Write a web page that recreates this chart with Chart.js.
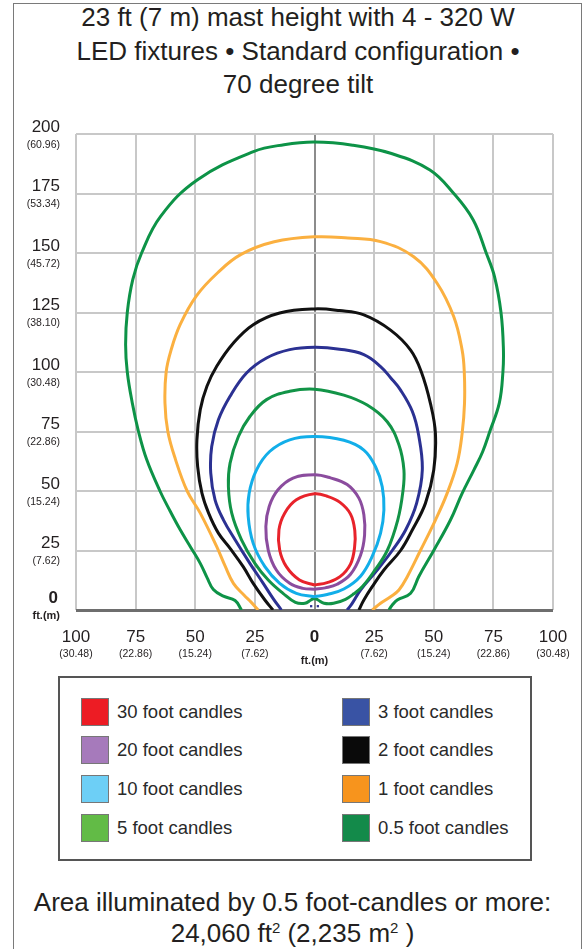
<!DOCTYPE html>
<html>
<head>
<meta charset="utf-8">
<script src="https://cdn.jsdelivr.net/npm/chart.js@4.4.1/dist/chart.umd.min.js"></script>
<style>
  html, body { margin: 0; padding: 0; background: #fff; }
  body { width: 585px; height: 949px; position: relative; overflow: hidden;
         font-family: "Liberation Sans", Arial, sans-serif; color: #231f20; }
  .frame { position: absolute; left: 13px; top: 3px; width: 569px; height: 980px;
           border: 1.5px solid #7a7a7a; border-bottom: none; box-sizing: border-box; }
  .title { position: absolute; left: 14px; width: 568px; top: 1px; text-align: center;
           font-size: 26px; line-height: 33.5px; }
  #plot { position: absolute; left: 14px; top: 110px; width: 570px; height: 560px; }
  .legend { position: absolute; left: 58px; top: 676px; width: 474px; height: 185px;
            border: 2px solid #555; box-sizing: border-box; }
  .item { position: absolute; font-size: 18.5px; line-height: 28px; white-space: nowrap; color: #2a2a2a; }
  .sw { display: inline-block; width: 26px; height: 26px; border: 1px solid #777;
        vertical-align: top; margin-right: 8px; }
  .note { position: absolute; left: 0; width: 585px; top: 887px; text-align: center;
          font-size: 26px; line-height: 31px; }
  .note sup { font-size: 15px; line-height: 0; vertical-align: 9px; }
</style>
</head>
<body>
<div class="frame"></div>
<div class="title">23 ft (7 m) mast height with 4 - 320 W<br>LED fixtures &bull; Standard configuration &bull;<br>70 degree tilt</div>
<div id="plot"><canvas id="chart"></canvas></div>
<div class="legend" id="legend"></div>
<div class="note">Area illuminated by 0.5 foot-candles or more:<br>24,060 ft<sup>2</sup> (2,235 m<sup>2</sup> )</div>

<script>
// axis ticks (feet) and their metre equivalents
const yTicks = [0, 25, 50, 75, 100, 125, 150, 175, 200];
const yMetric = ['', '(7.62)', '(15.24)', '(22.86)', '(30.48)', '(38.10)', '(45.72)', '(53.34)', '(60.96)'];
const xTicks = [-100, -75, -50, -25, 0, 25, 50, 75, 100];
const xTickLabels = ['100', '75', '50', '25', '0', '25', '50', '75', '100'];
const xMetric = ['(30.48)', '(22.86)', '(15.24)', '(7.62)', '', '(7.62)', '(15.24)', '(22.86)', '(30.48)'];

const levelNames = ['30 foot candles', '20 foot candles', '10 foot candles', '5 foot candles',
                    '3 foot candles', '2 foot candles', '1 foot candles', '0.5 foot candles'];

// isolux contours, [x ft, y ft]
const fc30 = [[0,10.5],[5.3,11.5],[10.7,14],[15.1,19.3],[16.8,26.3],[16.9,33.3],[15.1,40.3],[10.7,45.2],
  [5.3,47.8],[0,48.8],[-7.6,46.3],[-12.5,40.7],[-14.9,33.7],[-14.6,25.2],[-11.8,18.2],[-6.3,12.6],[0,10.5]];
const fc20 = [[0,8.7],[4.5,9.3],[9.5,10.8],[15.1,15],[19.3,23],[21,31.5],[20.7,40],[18.6,47],[13.7,52.7],
  [6.7,55.5],[0,56.8],[-9,55.4],[-15.3,50.5],[-19,43.5],[-20.4,35.1],[-19.4,25.2],[-16,16.8],[-10.4,11.2],
  [-4.9,9.1],[0,8.7]];
const fc10 = [[0,5.6],[5.3,6.5],[12.3,8.8],[19.3,14.2],[24.2,22.5],[27.7,32.3],[29.1,42],[28.4,51.8],[25.6,60.2],
  [20.7,67.2],[12.3,71.3],[0,72.9],[-10.4,71.5],[-18.8,66.6],[-24.3,58.9],[-27.4,49.1],[-27.8,39.3],[-25.7,28],
  [-20.8,18.2],[-14.6,11.2],[-7.6,7],[0,5.6]];
const fc5 = [[0,4.9],[1.5,4.2],[4,2.8],[8,2.8],[13,4.5],[16.5,6.8],[20.2,10],[25,16.3],[30.5,25],[34.9,37.8],
  [37,49.3],[37.5,58.8],[35.4,69.4],[30.5,79.1],[22.1,86.1],[12.3,90.3],[0,92.8],[-10.4,91.9],[-20.1,88.4],
  [-27.1,81.3],[-31.9,72.9],[-35.4,61.7],[-36.1,51.9],[-34.7,40.7],[-30.6,29.5],[-25,19.6],[-19.4,12.6],
  [-13.2,7],[-8,3.2],[-4,2.8],[-1.5,4.2],[0,4.9]];
const fc3 = [[-13.9,0],[-17.4,4.9],[-21.5,11.2],[-27.1,19.6],[-33.3,29.5],[-38.2,37.9],[-41.7,46.3],[-43.5,57.5],
  [-43.1,68.7],[-40.3,79.9],[-35.4,89.8],[-28.5,99.6],[-20.1,105.9],[-10.4,109.4],[0,110.4],[10.5,109.6],
  [20.7,107.3],[27.7,102.3],[32,97.5],[36.1,92.4],[41,83.5],[43.7,73.3],[45.2,58.8],[42.8,44.8],[38.2,33.6],
  [32.6,25],[26.3,16.8],[19.3,8.4],[15.8,2.8],[13.7,0]];
const fc2 = [[-17.4,0],[-20.8,4.2],[-25.7,11.2],[-29.9,18.2],[-35.4,25.9],[-40.3,32.3],[-44.4,40.7],[-47.2,49.1],
  [-49,60.3],[-49.3,71.5],[-47.9,84.2],[-45.1,94],[-41,102.4],[-34,112.2],[-25.7,119.9],[-14.6,124.8],[0,126.5],
  [10.5,125.8],[20.7,124],[31.9,117.6],[40.3,109.2],[44.8,100],[48.6,86.8],[50.7,74.2],[50,58.8],[46.5,44.8],
  [41,33.6],[36.1,25],[29.1,16.8],[24.2,9.8],[20.7,4.2],[18.6,0]];
const fc1 = [[-23.6,0],[-26.5,3.2],[-29.5,6.2],[-34,11.2],[-37.5,18.5],[-41,26.6],[-47.9,40.7],[-53.4,50],
  [-58.3,63.3],[-61.5,75],[-62.7,87],[-62.2,100],[-60.2,109],[-56.3,120],[-49.5,132],[-40.6,141.7],[-30.8,149.4],
  [-16.9,154.7],[0,156.8],[14,156.3],[27.7,154.8],[41.6,148.4],[51.4,137.3],[58.4,123.2],[61.9,109.2],[62.8,100],
  [62.9,86.8],[61.9,74.2],[59.8,61.6],[55.6,49],[50.7,37.8],[44.4,25],[38.9,14],[35.4,8.4],[31.9,5.6],
  [27.7,2.8],[24.2,0]];
const fc05 = [[-30.6,0],[-33.3,4],[-38.2,5.8],[-42.4,8.6],[-45,13.5],[-47.9,19.6],[-52,26.5],[-56.3,33.7],
  [-60.5,41.5],[-64.8,50],[-70.4,63.3],[-73.8,75],[-76.4,87],[-78.5,100],[-79.2,111.6],[-78.5,125],[-76.2,138.8],
  [-72.5,150],[-64.6,165.3],[-49.2,180.7],[-25.6,192.6],[-12.8,195.5],[0,196.6],[16,195.3],[31.9,191.9],
  [48.4,184.9],[58.4,175],[66.5,164],[72,150],[75.5,140],[78.2,125],[79.2,110],[79,100],[77.5,87],[73.5,75],
  [70.5,66.5],[66.8,58.8],[61.9,49],[57,37.8],[50,25],[43.7,14],[40.3,7],[34.7,4.2],[32.6,2.1],[31.2,0]];
// two little marks under the mast
const mastMarks = [[-1.4,1.6],[1.4,1.6]];

const contours = [fc30, fc20, fc10, fc5, fc3, fc2, fc1, fc05];
const lineColors = ['#e8232b', '#8b4c9e', '#12aee9', '#129447', '#2b3192', '#111111', '#fbb040', '#0d9347'];
const swatchColors = ['#ed1c24', '#a67abb', '#6dcff6', '#62bb46', '#3953a4', '#0a0a0a', '#f7941d', '#138a4a'];

const FONT = '"Liberation Sans", Arial, sans-serif';

const datasets = contours.map((pts, i) => ({
    label: levelNames[i],
    data: pts.map(p => ({ x: p[0], y: p[1] })),
    showLine: true,
    borderColor: lineColors[i],
    borderWidth: 3,
    pointRadius: 0,
    tension: 0.4,
    fill: false,
}));
datasets.push({
    label: 'mast',
    data: mastMarks.map(p => ({ x: p[0], y: p[1] })),
    pointStyle: 'rect',
    pointRadius: 1.6,
    backgroundColor: '#2b3192',
    borderWidth: 0,
});

// draws the two-line (ft / m) tick labels
const axisText = {
    id: 'axisText',
    afterDraw(chart) {
        const { ctx, chartArea, scales: { x, y } } = chart;
        ctx.save();
        ctx.fillStyle = '#231f20';
        ctx.textBaseline = 'middle';
        ctx.textAlign = 'right';
        const lx = chartArea.left - 16;
        yTicks.forEach((v, i) => {
            const py = y.getPixelForValue(v);
            if (v === 0) {
                ctx.font = 'bold 17px ' + FONT;
                ctx.fillText('0', lx - 2, py - 12);
                ctx.font = 'bold 11px ' + FONT;
                ctx.fillText('ft.(m)', lx, py + 6);
            } else {
                ctx.font = '17px ' + FONT;
                ctx.fillText(String(v), lx, py - 7);
                ctx.font = '10.5px ' + FONT;
                ctx.fillText(yMetric[i], lx, py + 11);
            }
        });
        ctx.textAlign = 'center';
        const by = chartArea.bottom;
        xTicks.forEach((v, i) => {
            const px = x.getPixelForValue(v);
            if (v === 0) {
                ctx.font = 'bold 17px ' + FONT;
                ctx.fillText(xTickLabels[i], px, by + 27);
                ctx.font = 'bold 11px ' + FONT;
                ctx.fillText('ft.(m)', px, by + 51);
            } else {
                ctx.font = '17px ' + FONT;
                ctx.fillText(xTickLabels[i], px, by + 27);
                ctx.font = '10.5px ' + FONT;
                ctx.fillText(xMetric[i], px, by + 44);
            }
        });
        ctx.restore();
    }
};

new Chart(document.getElementById('chart'), {
    type: 'scatter',
    data: { datasets },
    options: {
        responsive: true,
        maintainAspectRatio: false,
        animation: false,
        layout: { padding: { left: 0, right: 31, top: 24, bottom: 0 } },
        plugins: { legend: { display: false }, tooltip: { enabled: false } },
        scales: {
            x: {
                type: 'linear', min: -100, max: 100,
                ticks: { stepSize: 25, display: false },
                grid: { color: c => c.tick.value === 0 ? '#8c8c8c' : '#c8c8c8', lineWidth: 2, drawTicks: false },
                border: { display: false },
                afterFit: s => { s.height = 60; }
            },
            y: {
                type: 'linear', min: 0, max: 200,
                ticks: { stepSize: 25, display: false },
                grid: {
                    color: c => c.tick.value === 0 ? '#6e6e6e' : '#c8c8c8',
                    lineWidth: c => c.tick.value === 0 ? 3 : 2,
                    drawTicks: false
                },
                border: { display: false },
                afterFit: s => { s.width = 62; }
            }
        }
    },
    plugins: [axisText]
});

// legend box, two columns of four
const legend = document.getElementById('legend');
const rowTops = [20, 58, 97, 136];
levelNames.forEach((name, i) => {
    const el = document.createElement('div');
    el.className = 'item';
    el.style.left = (i < 4 ? 21 : 282) + 'px';
    el.style.top = rowTops[i % 4] + 'px';
    el.innerHTML = '<span class="sw" style="background:' + swatchColors[i] + '"></span>' + name;
    legend.appendChild(el);
});
</script>
</body>
</html>
